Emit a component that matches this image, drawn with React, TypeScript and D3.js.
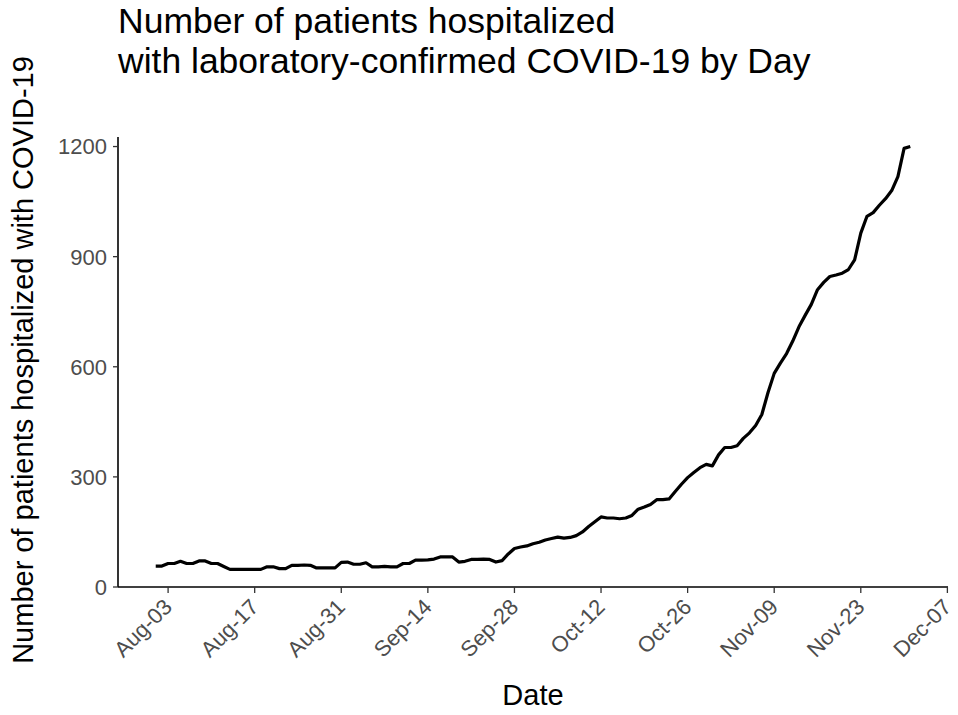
import React from "react";
import * as d3 from "d3";

const title = ["Number of patients hospitalized", "with laboratory-confirmed COVID-19 by Day"];
const yLabel = "Number of patients hospitalized with COVID-19";
const xLabel = "Date";
const startDate = "2020-08-01";
const yTicks = [0, 300, 600, 900, 1200];
const xTickDates = ["2020-08-03", "2020-08-17", "2020-08-31", "2020-09-14", "2020-09-28", "2020-10-12", "2020-10-26", "2020-11-09", "2020-11-23", "2020-12-07"];
const hospitalized = [
  57, 57, 64, 64, 70, 64, 64, 71, 71, 64,
  64, 56, 48, 48, 48, 48, 48, 48, 55, 55,
  50, 50, 59, 59, 60, 59, 52, 52, 52, 52,
  67, 68, 62, 62, 66, 55, 55, 56, 55, 55,
  64, 64, 73, 73, 74, 76, 82, 82, 82, 68,
  70, 75, 75, 76, 75, 68, 72, 90, 105, 109,
  112, 118, 122, 128, 132, 136, 133, 135, 140, 150,
  165, 178, 191, 188, 188, 186, 188, 195, 212, 218,
  225, 238, 238, 240, 260, 280, 298, 312, 325, 334,
  330, 360, 380, 380, 385, 405, 420, 440, 470, 530,
  582, 610, 636, 670, 709, 740, 770, 810, 830, 846,
  850, 855, 865, 891, 964, 1010, 1020, 1040, 1058, 1080,
  1118, 1195, 1200,
];

const W = 958;
const H = 715;
const M = { left: 118, right: 948, top: 137, bottom: 587 };
const font = "'Liberation Sans', Arial, sans-serif";

export default function App() {
  const parse = d3.timeParse("%Y-%m-%d");
  const start = parse(startDate) as Date;
  const data = hospitalized.map((v, i) => ({ date: d3.timeDay.offset(start, i), value: v }));
  const [d0, d1] = d3.extent(data, (d) => d.date) as [Date, Date];
  const span = +d1 - +d0;
  const x = d3
    .scaleTime()
    .domain([new Date(+d0 - span * 0.05), new Date(+d1 + span * 0.05)])
    .range([M.left, M.right]);
  const y = d3.scaleLinear().domain([0, 1226]).range([M.bottom, M.top]);
  const line = d3
    .line<{ date: Date; value: number }>()
    .x((d) => x(d.date))
    .y((d) => y(d.value));
  const fmt = d3.timeFormat("%b-%d");
  const xt = xTickDates.map((s) => parse(s) as Date);

  return (
    <svg width={W} height={H} style={{ position: "absolute", left: 0, top: 0, background: "#fff" }} fontFamily={font}>
      <rect x={0} y={0} width={W} height={H} fill="#fff" />
      <text x={118} y={33} fontSize={35.5} fill="#000">{title[0]}</text>
      <text x={118} y={73} fontSize={35.5} fill="#000">{title[1]}</text>

      {/* axes */}
      <line x1={M.left} x2={M.left} y1={M.top} y2={M.bottom} stroke="#000" strokeWidth={1.6} />
      <line x1={M.left} x2={M.right} y1={M.bottom} y2={M.bottom} stroke="#000" strokeWidth={1.6} />

      {yTicks.map((t) => (
        <g key={t}>
          <line x1={M.left - 5} x2={M.left} y1={y(t)} y2={y(t)} stroke="#333" strokeWidth={1.3} />
          <text x={M.left - 11} y={y(t)} dy="0.36em" textAnchor="end" fontSize={22} fill="#4D4D4D">
            {t}
          </text>
        </g>
      ))}

      {xt.map((t, i) => (
        <g key={i}>
          <line x1={x(t)} x2={x(t)} y1={M.bottom} y2={M.bottom + 6} stroke="#333" strokeWidth={1.3} />
          <text
            transform={`translate(${x(t) - 1},${M.bottom + 15}) rotate(-45)`}
            textAnchor="end"
            dy="0.4em"
            fontSize={22}
            fill="#4D4D4D"
          >
            {fmt(t)}
          </text>
        </g>
      ))}

      <path d={line(data) || ""} fill="none" stroke="#000" strokeWidth={3.2} strokeLinejoin="round" />

      <text x={(M.left + M.right) / 2} y={705} textAnchor="middle" fontSize={29} fill="#000">
        {xLabel}
      </text>
      <text transform={`translate(33,360) rotate(-90)`} textAnchor="middle" fontSize={29} fill="#000">
        {yLabel}
      </text>
    </svg>
  );
}
